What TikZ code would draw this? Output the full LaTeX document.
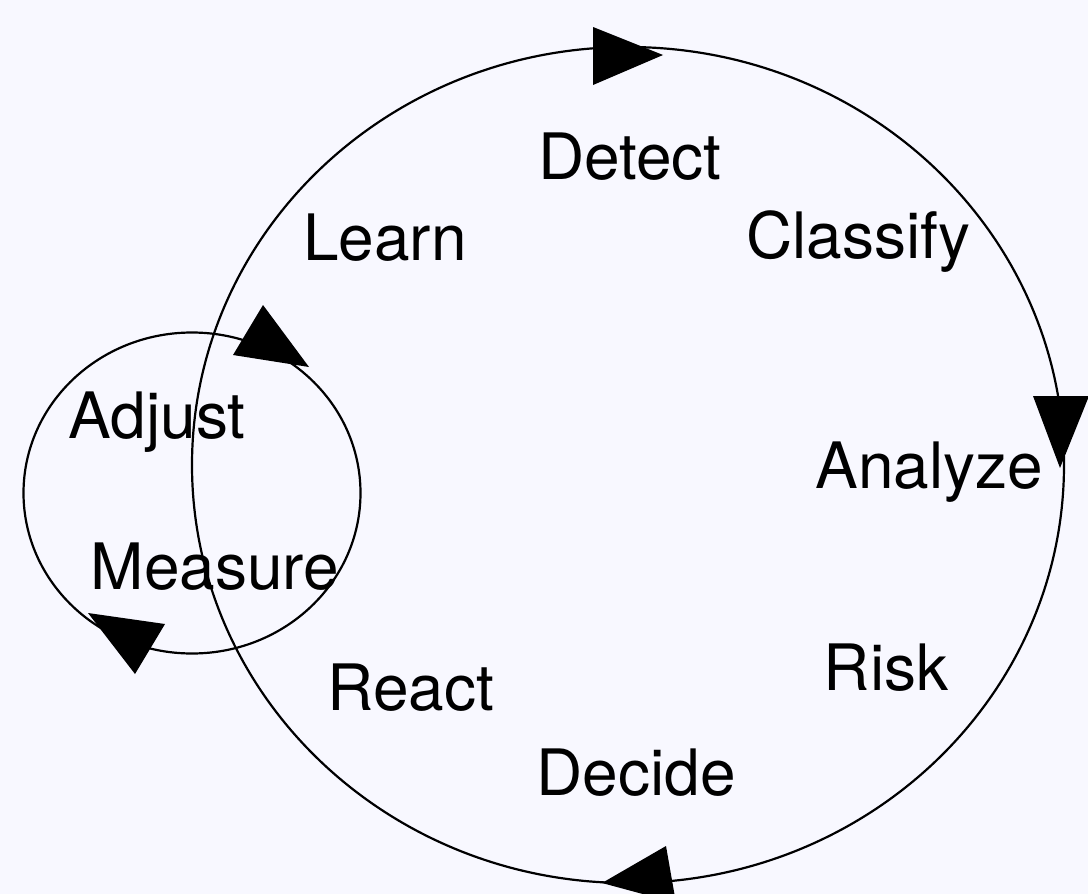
\documentclass[tikz,border=0pt]{standalone}
\usepackage{fontspec}
\setmainfont{TeX Gyre Heros}
\usepackage{xcolor}
\usetikzlibrary{shapes.geometric}
\definecolor{bgcol}{HTML}{F8F8FF}

\begin{document}
\begin{tikzpicture}[x=1pt, y=-1pt,
    ring/.style={draw, ellipse, line width=2.2pt, inner sep=0pt},
    stage/.style={anchor=base, inner sep=0pt, font=\fontsize{64}{72}\selectfont},
    tip/.style={fill=black}]
        \fill[bgcol] (0,0) rectangle (1088,894);
        \useasboundingbox (0,0) rectangle (1088,894);

        \node[ring, minimum width=872pt, minimum height=836pt] (outer) at (628,465) {};
        \node[ring, minimum width=337pt, minimum height=321pt] (inner) at (192,493) {};

        \node[stage] (detect) at (630,179) {Detect};
        \node[stage] (classify) at (858,258) {Classify};
        \node[stage] (analyze) at (929,488) {Analyze};
        \node[stage] (risk) at (886,690) {Risk};
        \node[stage] (decide) at (636,795) {Decide};
        \node[stage] (react) at (411,710) {React};
        \node[stage] (learn) at (385,260) {Learn};
        \node[stage] (adjust) at (157,438) {Adjust};
        \node[stage] (measure) at (215,589) {Measure};

        % arrow heads on the rings
        \fill[tip] (593,27) -- (593,85) -- (663,55) -- cycle;
        \fill[tip] (1033,396) -- (1089,396) -- (1060,468) -- cycle;
        \fill[tip] (666,846) -- (676,903) -- (602,883) -- cycle;
        \fill[tip] (263,305) -- (233,355) -- (309,367) -- cycle;
        \fill[tip] (88,613) -- (165,624) -- (135,674) -- cycle;
\end{tikzpicture}
\end{document}
